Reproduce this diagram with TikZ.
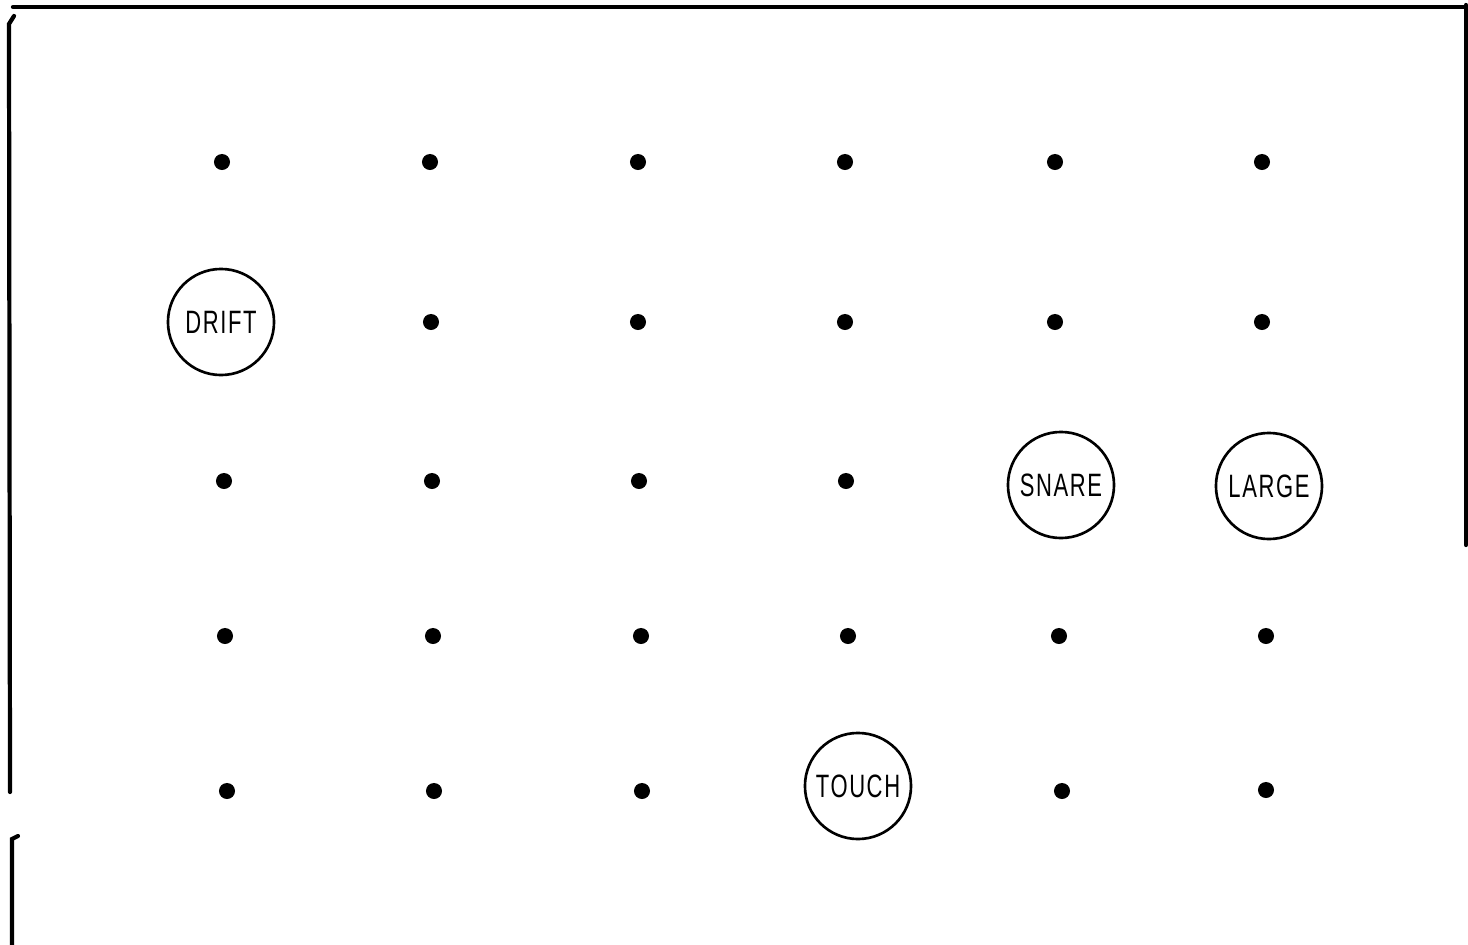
\documentclass[tikz,border=0pt]{standalone}
\usepackage{fontspec}
\setmainfont{Liberation Sans}
\newfontfamily\keyfont[FakeStretch=0.68, LetterSpace=5]{Liberation Sans}
\usepackage{tikz}
\usetikzlibrary{positioning}

\tikzset{
  peg/.style={circle, fill=black, inner sep=0pt, minimum size=0.16cm},
  keyring/.style={circle, draw=black, line width=0.75pt, inner sep=0pt,
    minimum size=1.06cm, font=\keyfont\fontsize{9.2}{10}\selectfont},
  frameline/.style={line width=1.2pt, line cap=round}
}

\begin{document}
\begin{tikzpicture}[x=0.01cm, y=-0.01cm]
  \useasboundingbox (0,0) rectangle (1468,945);

  % rahmen
  \draw[frameline] (13,7) -- (1468,7);
  \draw[frameline] (14,16) -- (9,24) -- (10,792);
  \draw[frameline] (18,836) -- (12,839) -- (12,945);
  \draw[frameline] (1466,5) -- (1466,545);

  % punktraster, zeile 1
  \foreach \x [count=\c] in {222,430,638,845,1055,1262}
    \node[peg] (p1-\c) at (\x,162) {};
  % zeile 2
  \foreach \x [count=\c from 2] in {431,638,845,1055,1262}
    \node[peg] (p2-\c) at (\x,322) {};
  % zeile 3
  \foreach \x [count=\c] in {224,432,639,846}
    \node[peg] (p3-\c) at (\x,481) {};
  % zeile 4
  \foreach \x [count=\c] in {225,433,641,848,1059,1266}
    \node[peg] (p4-\c) at (\x,636) {};
  % zeile 5
  \foreach \x [count=\c] in {227,434,642}
    \node[peg] (p5-\c) at (\x,791) {};
  \node[peg] (p5-5) at (1062,791) {};
  \node[peg] (p5-6) at (1266,790) {};

  % tasten
  \node[keyring] (drift) at (221,322) {DRIFT};
  \node[keyring] (snare) at (1061,485) {SNARE};
  \node[keyring] (large) at (1269,486) {LARGE};
  \node[keyring] (touch) at (858,786) {TOUCH};
\end{tikzpicture}
\end{document}
